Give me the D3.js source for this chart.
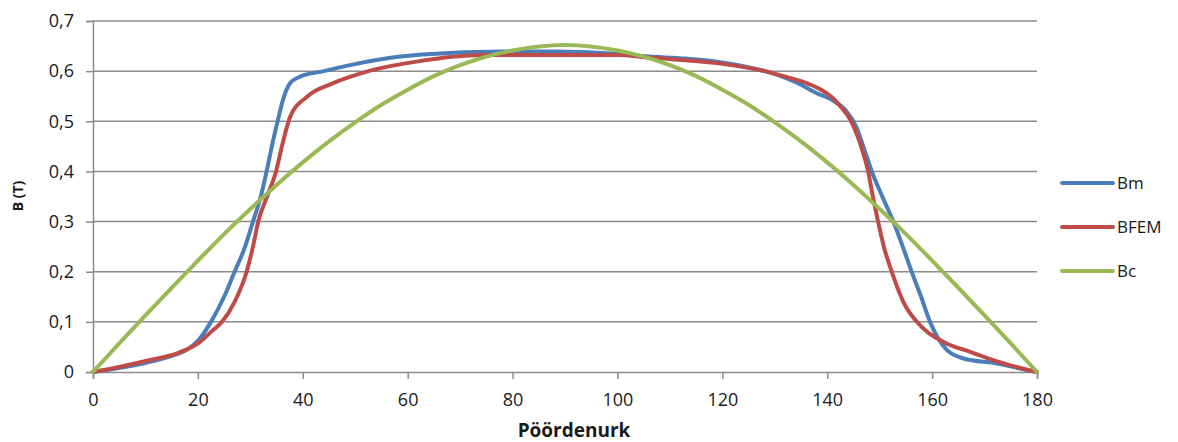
<!DOCTYPE html>
<html>
<head>
<meta charset="utf-8">
<script src="https://cdn.jsdelivr.net/npm/d3@7"></script>
<style>
	body { margin: 0; background: #fff; }
	svg { display: block; font-family: 'Open Sans', sans-serif; }
</style>
</head>
<body>
<div id="chart"></div>
<script>
// angle in degrees, B in tesla
const bmPoints = [
	[0, 0], [5, 0.008], [10, 0.018], [15, 0.032], [18, 0.045], [20, 0.062],
	[22.5, 0.1], [25, 0.15], [27, 0.2], [29, 0.25], [30.5, 0.3], [32, 0.35],
	[33.1, 0.4], [34.1, 0.45], [35.2, 0.5], [36.2, 0.542], [37.5, 0.575],
	[39.5, 0.589], [44, 0.6], [49, 0.612], [58.6, 0.629], [68, 0.636],
	[78, 0.639], [88, 0.639], [97, 0.636], [106, 0.629], [113, 0.625],
	[119, 0.619], [124, 0.61], [128.5, 0.599], [134, 0.578], [138, 0.556],
	[141, 0.542], [143.5, 0.522], [145.5, 0.49], [146.9, 0.449], [148.5, 0.4],
	[150.5, 0.35], [152.6, 0.3], [154.4, 0.25], [156.1, 0.2], [157.9, 0.15],
	[159.6, 0.1], [161, 0.07], [162.8, 0.044], [166, 0.027],
	[172.4, 0.017], [178, 0.004], [180, 0]
];

const bfemPoints = [
	[0, 0], [5, 0.01], [10.9, 0.024], [16, 0.037], [20.4, 0.06], [22.5, 0.08],
	[24.6, 0.1], [27, 0.14], [29.3, 0.2], [30.5, 0.25], [31.5, 0.3], [33.2, 0.35],
	[34.9, 0.4], [36, 0.449], [37.6, 0.509], [40.8, 0.549], [45.8, 0.576],
	[52.2, 0.599], [61.7, 0.619], [74.4, 0.632], [87, 0.632], [100, 0.632],
	[106, 0.627], [119, 0.616], [128.5, 0.599], [133, 0.586], [136.1, 0.576],
	[139, 0.562], [141.1, 0.546], [142.5, 0.53], [144.4, 0.503], [145.8, 0.47],
	[146.6, 0.445], [147.8, 0.4], [148.7, 0.35], [149.7, 0.3], [150.8, 0.25],
	[152.3, 0.2], [154.5, 0.14], [157.1, 0.1], [162.2, 0.06],
	[167.3, 0.04], [172.4, 0.021], [180, 0]
];

const bcPoints = [
	[0, 0], [5, 0.057], [10, 0.113], [15, 0.168], [20, 0.222], [25, 0.275],
	[30, 0.325], [35, 0.373], [40, 0.418], [45, 0.46], [50, 0.498], [55, 0.533],
	[60, 0.563], [65, 0.59], [70, 0.612], [75, 0.629], [80, 0.641], [85, 0.649],
	[90, 0.652], [95, 0.649], [100, 0.641], [105, 0.629], [110, 0.612],
	[115, 0.59], [120, 0.563], [125, 0.533], [130, 0.498], [135, 0.46],
	[140, 0.418], [145, 0.373], [150, 0.325], [155, 0.275], [160, 0.222],
	[165, 0.168], [170, 0.113], [175, 0.057], [180, 0]
];

const seriesNames = ['Bm', 'BFEM', 'Bc'];
const xTicks = [0, 20, 40, 60, 80, 100, 120, 140, 160, 180];
const yTicks = [0, 0.1, 0.2, 0.3, 0.4, 0.5, 0.6, 0.7];

const width = 1178;
const height = 442;
const margin = { top: 21, right: 141, bottom: 70, left: 93 };

const colors = {
	Bm: '#4a7ebb',
	BFEM: '#be4b48',
	Bc: '#98b954'
};

const series = [
	{ name: seriesNames[0], values: bmPoints },
	{ name: seriesNames[1], values: bfemPoints },
	{ name: seriesNames[2], values: bcPoints }
];

const svg = d3.select('#chart')
	.append('svg')
	.attr('width', width)
	.attr('height', height);

const x = d3.scaleLinear()
	.domain([0, 180])
	.range([margin.left, width - margin.right]);

const y = d3.scaleLinear()
	.domain([0, 0.7])
	.range([height - margin.bottom, margin.top]);

const fmt = (d) => d === 0 ? '0' : d3.format('.1f')(d).replace('.', ',');

// horizontal grid
svg.append('g')
	.selectAll('line')
	.data(yTicks.filter((d) => d > 0))
	.join('line')
	.attr('x1', x(0))
	.attr('x2', x(180))
	.attr('y1', (d) => y(d))
	.attr('y2', (d) => y(d))
	.attr('stroke', '#8c8c8c')
	.attr('stroke-width', 1.5);

const yAxis = svg.append('g')
	.attr('transform', `translate(${x(0)},0)`)
	.call(d3.axisLeft(y).tickValues(yTicks).tickFormat(fmt).tickSize(7).tickPadding(12));

const xAxis = svg.append('g')
	.attr('transform', `translate(0,${y(0)})`)
	.call(d3.axisBottom(x).tickValues(xTicks).tickSize(7).tickPadding(14));

[yAxis, xAxis].forEach((ax) => {
	ax.select('.domain').attr('stroke', '#8c8c8c').attr('stroke-width', 1.5);
	ax.selectAll('.tick line').attr('stroke', '#8c8c8c').attr('stroke-width', 1.5);
	ax.selectAll('.tick text')
		.attr('fill', '#1a1a1a')
		.style('font-size', '18px')
		.style('font-family', "'Open Sans', sans-serif");
});

const line = d3.line()
	.x((d) => x(d[0]))
	.y((d) => y(d[1]))
	.curve(d3.curveMonotoneX);

svg.append('g')
	.selectAll('path')
	.data(series)
	.join('path')
	.attr('d', (d) => line(d.values))
	.attr('fill', 'none')
	.attr('stroke', (d) => colors[d.name])
	.attr('stroke-width', 4)
	.attr('stroke-linejoin', 'round')
	.attr('stroke-linecap', 'round');

// axis titles
svg.append('text')
	.attr('x', (x(0) + x(180)) / 2 + 9)
	.attr('y', 437)
	.attr('text-anchor', 'middle')
	.attr('font-weight', 'bold')
	.attr('font-size', 19)
	.attr('fill', '#1a1a1a')
	.text('Pöördenurk');

svg.append('text')
	.attr('transform', 'translate(23,196) rotate(-90)')
	.attr('text-anchor', 'middle')
	.attr('font-weight', 'bold')
	.attr('font-size', 14)
	.attr('fill', '#1a1a1a')
	.text('B (T)');

// legend
const legend = svg.append('g')
	.selectAll('g')
	.data(series)
	.join('g')
	.attr('transform', (d, i) => `translate(1062,${183 + i * 44})`);

legend.append('line')
	.attr('x1', 0)
	.attr('x2', 51)
	.attr('stroke', (d) => colors[d.name])
	.attr('stroke-width', 4)
	.attr('stroke-linecap', 'round');

legend.append('text')
	.attr('x', 55)
	.attr('dy', '0.35em')
	.attr('font-size', 17)
	.attr('fill', '#1a1a1a')
	.text((d) => d.name);
</script>
</body>
</html>
